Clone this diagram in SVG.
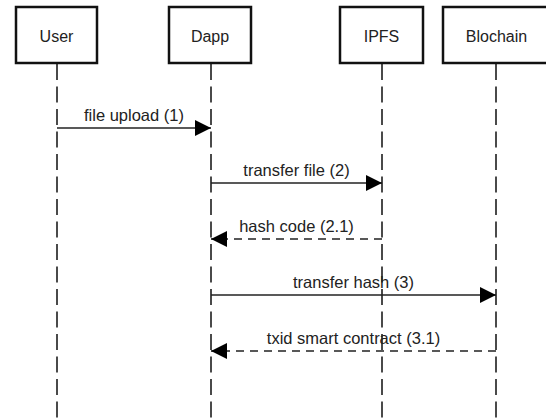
<svg xmlns="http://www.w3.org/2000/svg" width="546" height="420" viewBox="0 0 546 420">
  <defs>
    <style>
      .box { fill: #ffffff; stroke: #111111; stroke-width: 2.5; }
      .life { stroke: #4a4a4a; stroke-width: 2; stroke-dasharray: 16 6.5; fill: none; }
      .msg { stroke: #222222; stroke-width: 1.5; fill: none; }
      .ret { stroke-dasharray: 8 6; }
      .lbl { font-family: "Liberation Sans", Arial, sans-serif; font-size: 16px; fill: #222222; text-anchor: middle; }
      .mlbl { font-family: "Liberation Sans", Arial, sans-serif; font-size: 16.5px; fill: #222222; text-anchor: middle; }
    </style>
    <marker id="arrow" viewBox="0 0 16 16" refX="16" refY="8" markerWidth="16" markerHeight="16" markerUnits="userSpaceOnUse" orient="auto">
      <path d="M0,0 L16,8 L0,16 Z" fill="#000000"/>
    </marker>
  </defs>
  <rect width="546" height="420" fill="#ffffff"/>

  <g id="lifelines">
    <line class="life" x1="57" y1="64" x2="57" y2="420"/>
    <line class="life" x1="211" y1="64" x2="211" y2="420"/>
    <line class="life" x1="382" y1="64" x2="382" y2="420"/>
    <line class="life" x1="496" y1="64" x2="496" y2="420"/>
  </g>

  <g id="user">
    <rect class="box" x="16" y="7" width="81" height="56"/>
    <text class="lbl" x="56.5" y="42">User</text>
  </g>
  <g id="dapp">
    <rect class="box" x="169" y="7" width="82" height="56"/>
    <text class="lbl" x="210" y="42">Dapp</text>
  </g>
  <g id="ipfs">
    <rect class="box" x="340" y="7" width="83" height="56"/>
    <text class="lbl" x="381.5" y="42">IPFS</text>
  </g>
  <g id="blochain">
    <rect class="box" x="443" y="7" width="106" height="56"/>
    <text class="lbl" x="496.5" y="42">Blochain</text>
  </g>

  <g id="connectors">
    <line class="msg" x1="57" y1="128" x2="211" y2="128" marker-end="url(#arrow)"/>
    <text class="mlbl" x="134" y="121">file upload (1)</text>

    <line class="msg" x1="211" y1="183" x2="382" y2="183" marker-end="url(#arrow)"/>
    <text class="mlbl" x="296.5" y="176">transfer file (2)</text>

    <line class="msg ret" x1="382" y1="239" x2="211" y2="239" marker-end="url(#arrow)"/>
    <text class="mlbl" x="296.5" y="232">hash code (2.1)</text>

    <line class="msg" x1="211" y1="295" x2="496" y2="295" marker-end="url(#arrow)"/>
    <text class="mlbl" x="353.5" y="288">transfer hash (3)</text>

    <line class="msg ret" x1="496" y1="351" x2="211" y2="351" marker-end="url(#arrow)"/>
    <text class="mlbl" x="353.5" y="344">txid smart contract (3.1)</text>
  </g>
</svg>
